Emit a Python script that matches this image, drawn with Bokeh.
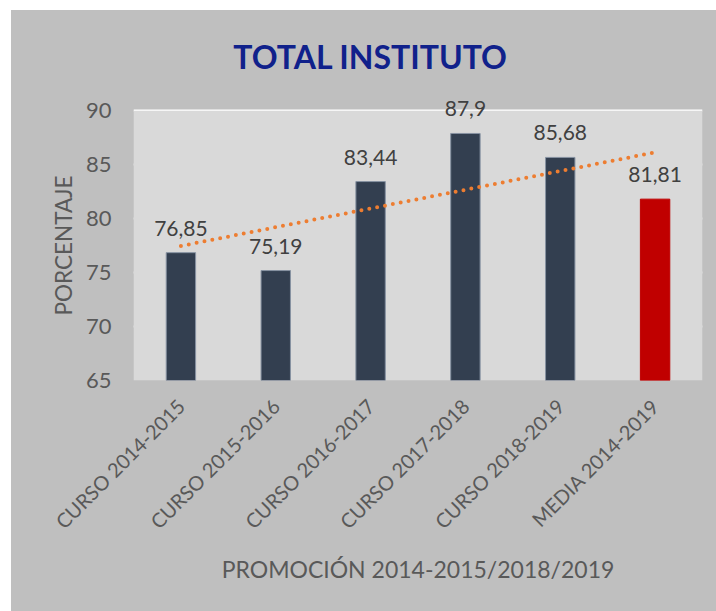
import numpy as np
from bokeh.plotting import figure
from bokeh.models import ColumnDataSource, Range1d, FactorRange, Label, LabelSet, BoxAnnotation, Title
from bokeh.core.properties import value
from bokeh.embed import file_html
from bokeh.resources import INLINE

# ---- data ----
categories = ["CURSO 2014-2015", "CURSO 2015-2016", "CURSO 2016-2017",
              "CURSO 2017-2018", "CURSO 2018-2019", "MEDIA 2014-2019"]
values = [76.85, 75.19, 83.44, 87.9, 85.68, 81.81]
bar_colors = ["#333f50", "#333f50", "#333f50", "#333f50", "#333f50", "#c00000"]
outline_colors = ["#8792a2", "#8792a2", "#8792a2", "#8792a2", "#8792a2", "#c00000"]
y_ticks = [65, 70, 75, 80, 85, 90]
title_text = "TOTAL INSTITUTO"
y_title = "PORCENTAJE"
x_title = "PROMOCIÓN 2014-2015/2018/2019"

# linear trend line (least squares over the six bars)
xi = np.arange(1, len(values) + 1)
slope, intercept = np.polyfit(xi, values, 1)
trend = list(slope * xi + intercept)

labels = [f"{v:g}".replace(".", ",") for v in values]
src = ColumnDataSource(dict(cat=categories, val=values, color=bar_colors,
                            oc=outline_colors, lab=labels))

FONT = "Lato"
OUTER = "#bfbfbf"

p = figure(width=705, height=601, x_range=FactorRange(*categories, range_padding=0),
           y_range=Range1d(65, 98), output_backend="svg", toolbar_location=None,
           min_border_left=122, min_border_right=14, min_border_top=14,
           min_border_bottom=231)
p.margin = (10, 0, 0, 11)
p.styles = {"background-color": OUTER}

# transparent canvas: the element's own background gives one uniform outer grey
p.border_fill_color = None
p.background_fill_color = None
p.outline_line_color = None

# light plot area from 65 to 90
p.add_layout(BoxAnnotation(bottom=65, top=90, fill_color="#d9d9d9", fill_alpha=1,
                           line_color=None, level="underlay"))

p.vbar(x="cat", top="val", bottom=65, width=0.31, source=src,
       fill_color="color", line_color="oc", line_width=1)

p.line(x=categories, y=trend, line_color="#ed7d31", line_width=4,
       line_dash="0 8", line_cap="round")

p.add_layout(LabelSet(x="cat", y="val", text="lab", source=src,
                      text_align="center", text_baseline="alphabetic",
                      y_offset=17, text_font=value(FONT), text_font_size="21px",
                      text_color="#404040"))

p.add_layout(Label(x=2.5, y=95, text=title_text, text_align="center",
                   text_baseline="middle", text_font=FONT,
                   text_font_style="bold", text_font_size="32px",
                   text_color="#10218b"))

# grid
p.xgrid.grid_line_color = None
p.ygrid.grid_line_color = "white"
p.ygrid.grid_line_width = 2
p.ygrid.ticker = y_ticks

# y axis
p.yaxis.ticker = y_ticks
p.yaxis.axis_line_color = None
p.yaxis.major_tick_line_color = None
p.yaxis.minor_tick_line_color = None
p.yaxis.major_tick_out = 0
p.yaxis.major_label_standoff = 22
p.yaxis.major_label_text_font = FONT
p.yaxis.major_label_text_font_size = "22px"
p.yaxis.major_label_text_color = "#595959"

# y axis title as a side title so it is centred on the 65-90 band
p.add_layout(Title(text=y_title, align="left", offset=65, standoff=12,
                   text_font=FONT, text_font_style="normal",
                   text_font_size="22.5px", text_color="#595959"), "left")

# x axis
p.xaxis.axis_line_color = None
p.xaxis.major_tick_line_color = None
p.xaxis.minor_tick_line_color = None
p.xaxis.major_tick_out = 0
p.xaxis.major_label_orientation = np.pi / 4
p.xaxis.major_label_standoff = 22
p.xaxis.major_label_text_font = FONT
p.xaxis.major_label_text_font_size = "20px"
p.xaxis.major_label_text_color = "#595959"
p.xaxis.axis_label = x_title
p.xaxis.axis_label_text_font = FONT
p.xaxis.axis_label_text_font_style = "normal"
p.xaxis.axis_label_text_font_size = "23px"
p.xaxis.axis_label_text_color = "#595959"
p.xaxis.axis_label_standoff = 10

open("out.html", "w").write(file_html(p, INLINE))
